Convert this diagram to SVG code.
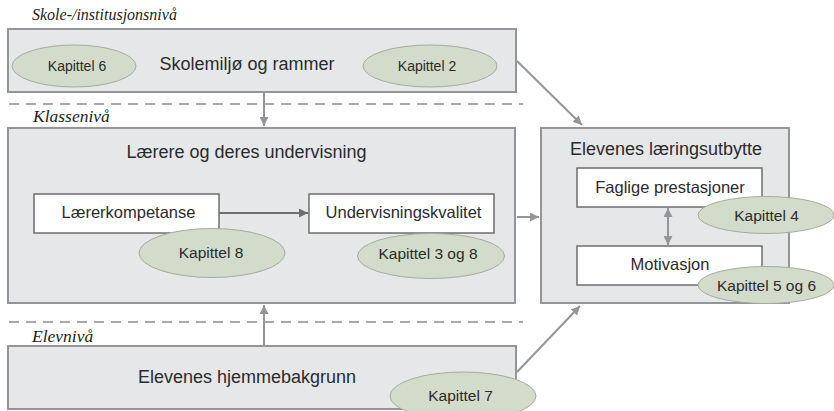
<svg xmlns="http://www.w3.org/2000/svg" width="834" height="411" viewBox="0 0 834 411">
<defs>
<style>
.box{fill:#e6e7e8;stroke:#939598;stroke-width:2}
.wbox{fill:#ffffff;stroke:#6d6e71;stroke-width:1.5}
.ell{fill:#d3dcca;stroke:#a6ab9f;stroke-width:1}
.t{font-family:"Liberation Sans",Arial,sans-serif;fill:#2b2b2d;text-anchor:middle}
.big{font-size:18px}
.mid{font-size:16.5px}
.kap{font-size:15.5px}
.kaps{font-size:14px}
.lvl{font-family:"Liberation Serif","Times New Roman",serif;font-style:italic;font-size:17.5px;fill:#231f20}
.dash{stroke:#a7a9ac;stroke-width:2;stroke-dasharray:10 7;fill:none}
.arr{stroke:#939598;stroke-width:2;fill:none}
.arrd{stroke:#6d6e71;stroke-width:2;fill:none}
</style>
<marker id="ah" viewBox="0 0 10 10" refX="10" refY="5" markerWidth="9" markerHeight="9" markerUnits="userSpaceOnUse" orient="auto-start-reverse">
<path d="M0,0 L10,5 L0,10 z" fill="#939598"/>
</marker>
<marker id="ahd" viewBox="0 0 10 10" refX="10" refY="5" markerWidth="9" markerHeight="9" markerUnits="userSpaceOnUse" orient="auto">
<path d="M0,0 L10,5 L0,10 z" fill="#6d6e71"/>
</marker>
</defs>

<g id="levels">
<text class="lvl" x="32" y="20" style="font-size:16px">Skole-/institusjonsnivå</text>
<text class="lvl" x="33" y="122">Klassenivå</text>
<text class="lvl" x="32" y="342">Elevnivå</text>
<line class="dash" x1="9" y1="104" x2="523" y2="104"/>
<line class="dash" x1="9" y1="322" x2="523" y2="322"/>
</g>

<g id="skolemiljo">
<rect class="box" x="8" y="29" width="508" height="63"/>
<text class="t big" x="247" y="70">Skolemiljø og rammer</text>
</g>
<g id="kap6">
<ellipse class="ell" cx="74" cy="66" rx="62" ry="21"/>
<text class="t kaps" x="77" y="71">Kapittel 6</text>
</g>
<g id="kap2">
<ellipse class="ell" cx="430" cy="66" rx="67" ry="21"/>
<text class="t kaps" x="427" y="71">Kapittel 2</text>
</g>

<g id="laerere">
<rect class="box" x="8" y="128" width="507" height="175"/>
<text class="t big" x="246.5" y="158">Lærere og deres undervisning</text>
</g>
<g id="laererkompetanse">
<rect class="wbox" x="34" y="194" width="185" height="39"/>
<text class="t mid" x="128.5" y="218">Lærerkompetanse</text>
</g>
<g id="undervisningskvalitet">
<rect class="wbox" x="309" y="194" width="185" height="39"/>
<text class="t mid" x="403.5" y="218">Undervisningskvalitet</text>
</g>
<g id="kap8">
<ellipse class="ell" cx="212" cy="253" rx="73" ry="24.5"/>
<text class="t kap" x="211" y="258">Kapittel 8</text>
</g>
<g id="kap38">
<ellipse class="ell" cx="431" cy="256" rx="73.5" ry="22.5"/>
<text class="t kap" x="428" y="259">Kapittel 3 og 8</text>
</g>

<g id="laeringsutbytte">
<rect class="box" x="541" y="128" width="248" height="175"/>
<text class="t big" x="666" y="155">Elevenes læringsutbytte</text>
</g>
<g id="faglige">
<rect class="wbox" x="577" y="168" width="185" height="39"/>
<text class="t mid" x="670" y="193">Faglige prestasjoner</text>
</g>
<g id="motivasjon">
<rect class="wbox" x="577" y="246" width="185" height="39"/>
<text class="t mid" x="670" y="270">Motivasjon</text>
</g>
<g id="kap4">
<ellipse class="ell" cx="766" cy="215" rx="68" ry="18.5"/>
<text class="t kap" x="766.5" y="221">Kapittel 4</text>
</g>
<g id="kap56">
<ellipse class="ell" cx="766" cy="285" rx="68" ry="18.5"/>
<text class="t kap" x="766.5" y="291">Kapittel 5 og 6</text>
</g>

<g id="hjemmebakgrunn">
<rect class="box" x="8" y="346" width="508" height="63"/>
<text class="t big" x="247" y="383">Elevenes hjemmebakgrunn</text>
</g>
<g id="kap7">
<ellipse class="ell" cx="463" cy="396" rx="73" ry="24"/>
<text class="t kap" x="460.5" y="401">Kapittel 7</text>
</g>

<g id="connectors">
<line class="arr" x1="264" y1="93" x2="264" y2="126" marker-end="url(#ah)"/>
<line class="arr" x1="264" y1="345" x2="264" y2="305" marker-end="url(#ah)"/>
<line class="arrd" x1="219" y1="213" x2="308" y2="213" marker-end="url(#ahd)"/>
<line class="arr" x1="517" y1="217" x2="539" y2="217" marker-end="url(#ah)"/>
<line class="arr" x1="517" y1="61" x2="582" y2="125" marker-end="url(#ah)"/>
<line class="arr" x1="517" y1="372" x2="580" y2="306" marker-end="url(#ah)"/>
<line class="arr" x1="668" y1="208" x2="668" y2="245" marker-start="url(#ah)" marker-end="url(#ah)"/>
</g>
</svg>
